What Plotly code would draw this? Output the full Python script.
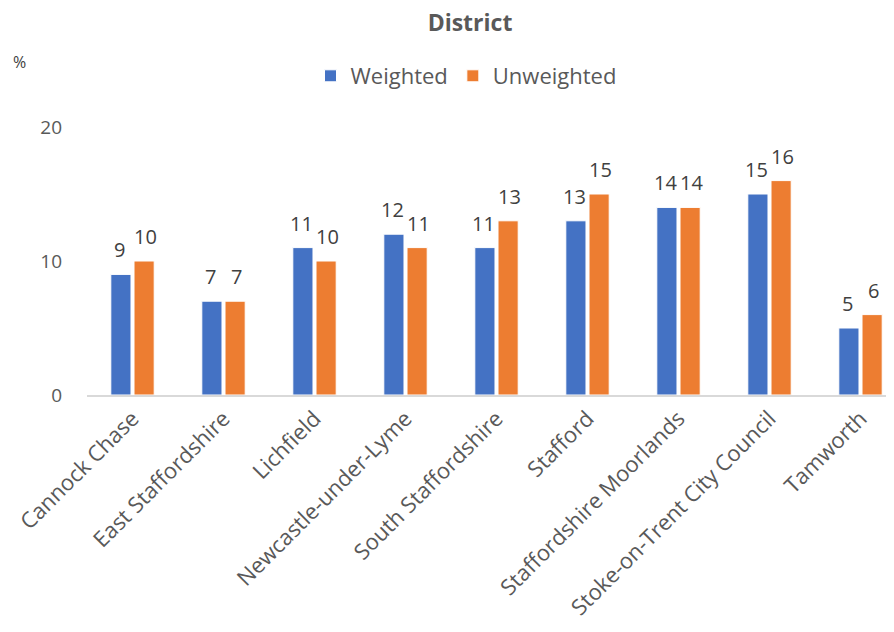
import plotly.graph_objects as go

categories = ["Cannock Chase", "East Staffordshire", "Lichfield", "Newcastle-under-Lyme",
              "South Staffordshire", "Stafford", "Staffordshire Moorlands",
              "Stoke-on-Trent City Council", "Tamworth"]
weighted = [9, 7, 11, 12, 11, 13, 14, 15, 5]
unweighted = [10, 7, 10, 11, 13, 15, 14, 16, 6]
y_ticks = [0, 10, 20]

FONT = "'Open Sans', sans-serif"
OFF = 8  # page body margin
W, H = 894, 632
PLOT_TOP, PLOT_BOTTOM, PLOT_LEFT = 127 - OFF, 395 - OFF, 87 - OFF
PH = PLOT_BOTTOM - PLOT_TOP
PW = W - PLOT_LEFT
CAT_W = 91.0
x_hi = -0.5 + PW / CAT_W
BAR_SHIFT = 12.8

fig = go.Figure()
fig.add_trace(go.Bar(name="Weighted", x=categories, y=weighted, marker_color="#4472C4",
                     marker_line=dict(color="#ffffff", width=1)))
fig.add_trace(go.Bar(name="Unweighted", x=categories, y=unweighted, marker_color="#ED7D31",
                     marker_line=dict(color="#ffffff", width=1)))

annotations = []
for series, shift in ((weighted, -BAR_SHIFT), (unweighted, BAR_SHIFT)):
    for cat, v in zip(categories, series):
        annotations.append(dict(x=cat, y=v, xref="x", yref="y", text=str(v),
                                showarrow=False, xanchor="center", yanchor="bottom",
                                xshift=shift, yshift=9,
                                font=dict(size=20, color="#404040", family=FONT)))
annotations.append(dict(text="%", x=(19 - OFF - PLOT_LEFT) / PW,
                        y=(PLOT_BOTTOM - (62 - OFF)) / PH,
                        xref="paper", yref="paper", showarrow=False,
                        xanchor="center", yanchor="middle",
                        font=dict(size=16, color="#404040", family=FONT)))

fig.update_layout(
    width=W, height=H,
    margin=dict(l=PLOT_LEFT, r=0, t=PLOT_TOP, b=H - PLOT_BOTTOM, autoexpand=False),
    plot_bgcolor="white", paper_bgcolor="white",
    barmode="group", bargap=0.49, bargroupgap=0.13,
    font=dict(family=FONT, color="#595959", size=17),
    title=dict(text="<b>District</b>", x=(470 - OFF) / W, xanchor="center",
               xref="container", yref="container", y=1 - (23 - OFF) / H, yanchor="middle",
               font=dict(size=23, color="#595959", family=FONT)),
    legend=dict(orientation="h", x=(466 - OFF - PLOT_LEFT) / PW, xanchor="center",
                y=(PLOT_BOTTOM - (76 - OFF)) / PH, yanchor="middle",
                font=dict(size=22, color="#595959", family=FONT),
                traceorder="normal"),
    xaxis=dict(range=[-0.5, x_hi], tickangle=-45, showline=True, linecolor="#D9D9D9",
               linewidth=2, ticks="", automargin=False,
               tickfont=dict(size=22, color="#595959")),
    yaxis=dict(range=[0, 20], tickvals=y_ticks, showgrid=False, zeroline=False,
               showline=False, ticks="", automargin=False,
               tickfont=dict(size=19, color="#595959"), ticklabelstandoff=24),
    annotations=annotations,
)
fig.write_html("out.html")
